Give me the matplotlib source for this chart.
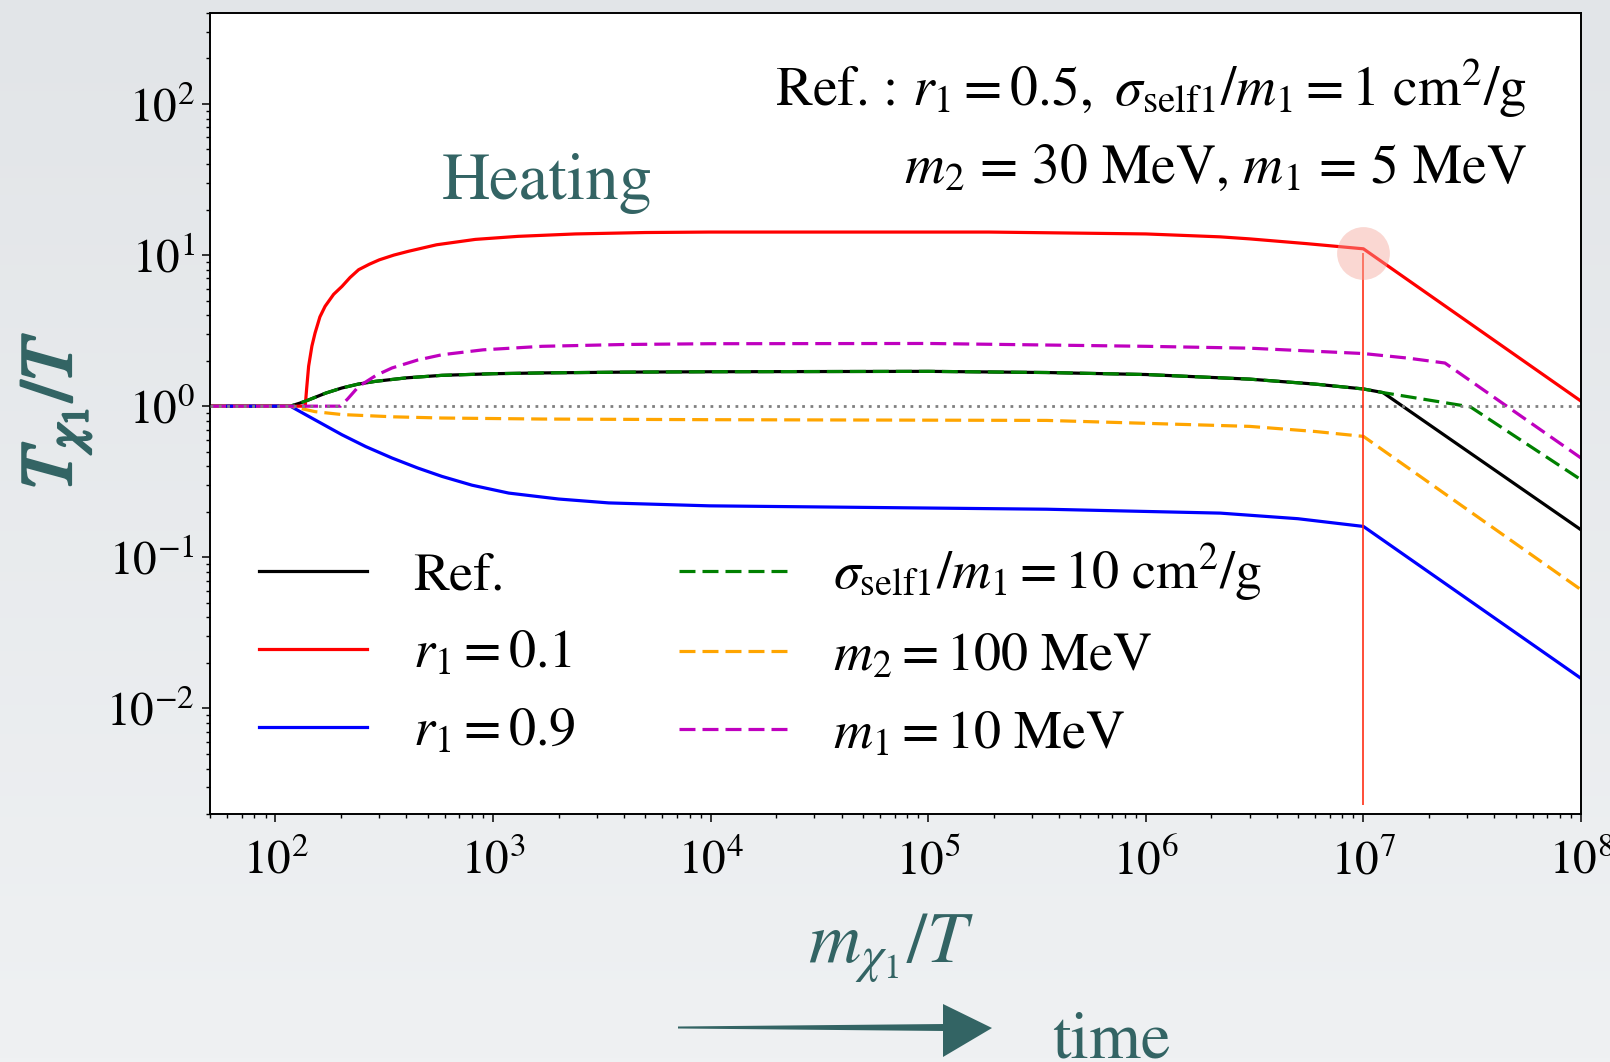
"""
T_chi1/T versus m_chi1/T for the reference point and parameter variations
"""

import matplotlib
matplotlib.use("Agg")
import matplotlib.pyplot as plt
import matplotlib.patheffects as pe
import numpy as np
from matplotlib.colors import LinearSegmentedColormap
from matplotlib.patches import Polygon

plt.rcParams["font.family"] = "STIXGeneral"
plt.rcParams["mathtext.fontset"] = "stix"

TEAL = "#336464"

# values (x = m_chi1/T, y = T_chi1/T)
ref_x = [50, 117, 130, 142, 170, 202, 240, 288, 400, 582, 1000, 1680, 4000, 1e4,
         1e5, 3.5e5, 1e6, 3e6, 6e6, 1e7, 1.23e7, 1e8]
ref_y = [1, 1, 1.05, 1.10, 1.22, 1.32, 1.40, 1.46, 1.54, 1.60, 1.64, 1.66, 1.68, 1.69,
         1.70, 1.67, 1.62, 1.51, 1.40, 1.30, 1.23, 0.152]

r01_x = [50, 137, 139, 142, 147, 152, 160, 169, 185, 202, 220, 241, 270, 300, 350, 409,
         550, 829, 1300, 2390, 5000, 9850, 1.9e5, 1e6, 2.2e6, 3e6, 5.5e6, 1e7, 1e8]
r01_y = [1, 1, 1.3, 1.84, 2.5, 3.05, 3.9, 4.58, 5.5, 6.2, 7.1, 8.0, 8.7, 9.3, 10.0, 10.6,
         11.7, 12.7, 13.3, 13.8, 14.1, 14.2, 14.2, 13.8, 13.2, 12.8, 11.9, 11.0, 1.08]

r09_x = [50, 117, 150, 202, 260, 343, 450, 582, 800, 1180, 2000, 3400, 9850, 3.5e5,
         2.2e6, 5e6, 1e7, 1e8]
r09_y = [1, 1, 0.82, 0.647, 0.54, 0.454, 0.39, 0.343, 0.30, 0.266, 0.243, 0.229, 0.219,
         0.208, 0.196, 0.180, 0.160, 0.0158]

sig10_x = [50, 117, 130, 142, 170, 202, 240, 288, 400, 582, 1000, 1680, 4000, 1e4,
           1e5, 3.5e5, 1e6, 3e6, 6e6, 1e7, 1.23e7, 3.1e7, 1e8]
sig10_y = [1, 1, 1.05, 1.10, 1.22, 1.32, 1.40, 1.46, 1.54, 1.60, 1.64, 1.66, 1.68, 1.69,
           1.70, 1.67, 1.62, 1.51, 1.40, 1.30, 1.23, 0.99, 0.326]

m2_100_x = [50, 117, 152, 202, 350, 582, 1682, 9850, 3.5e5, 3e6, 6e6, 1e7, 1e8]
m2_100_y = [1, 1, 0.92, 0.88, 0.85, 0.835, 0.822, 0.814, 0.805, 0.735, 0.68, 0.631, 0.061]

m1_10_x = [50, 199, 215, 241, 290, 343, 450, 582, 900, 1682, 4000, 9850, 1e5, 1e6,
           3e6, 1e7, 1.6e7, 2.37e7, 1e8]
m1_10_y = [1, 1, 1.12, 1.35, 1.60, 1.79, 2.02, 2.19, 2.36, 2.49, 2.56, 2.59, 2.60, 2.49,
           2.42, 2.23, 2.08, 1.93, 0.454]

# decoupling marker
mark_x = 1e7
mark_y = 10.3
mark_ybottom = 0.0023

labels = [
    "Ref.",
    r"$r_1=0.1$",
    r"$r_1=0.9$",
    r"$\sigma_{\rm self1}/m_1=10\ {\rm cm}^2/{\rm g}$",
    r"$m_2=100\ {\rm MeV}$",
    r"$m_1=10\ {\rm MeV}$",
]


def main():
    fig = plt.figure(figsize=(16.1, 10.62), dpi=100)

    # slide background
    bg = fig.add_axes([0, 0, 1, 1], zorder=0)
    cmap = LinearSegmentedColormap.from_list("bg", ["#e2e5e8", "#eff1f3"])
    bg.imshow(np.linspace(0, 1, 256).reshape(-1, 1), cmap=cmap, aspect="auto",
              extent=[0, 1610, 1062, 0])
    bg.set_xlim(0, 1610)
    bg.set_ylim(1062, 0)
    bg.axis("off")
    # "time" arrow
    bg.add_patch(Polygon([(678, 1026.5), (945, 1024), (945, 1031), (678, 1028.5)],
                         closed=True, color=TEAL, lw=0))
    bg.add_patch(Polygon([(943, 1004), (992, 1028), (943, 1057)],
                         closed=True, color=TEAL, lw=0))

    ax = fig.add_axes([210 / 1610, 1 - 814 / 1062, 1371 / 1610, 801 / 1062], zorder=1)
    ax.set_facecolor("white")

    solid = dict(lw=2.3)
    dash = dict(lw=2.3, ls=(0, (5, 2.2)))
    ax.plot(ref_x, ref_y, color="black", label=labels[0], **solid)
    ax.plot(r01_x, r01_y, color="#ff0000", label=labels[1], **solid)
    ax.plot(r09_x, r09_y, color="#0000ff", label=labels[2], **solid)
    ax.plot(sig10_x, sig10_y, color="green", label=labels[3], **dash)
    ax.plot(m2_100_x, m2_100_y, color="orange", label=labels[4], **dash)
    ax.plot(m1_10_x, m1_10_y, color="#bf00bf", label=labels[5], **dash)
    ax.axhline(1, color="grey", lw=2, ls=(0, (1, 2)), zorder=3)

    # highlight of the decoupling point
    ax.vlines(mark_x, mark_ybottom, mark_y, color="#ff2a10", lw=1.3, alpha=0.9, zorder=4)
    ax.plot([mark_x], [mark_y], "o", ms=38, color="#f4a89c", alpha=0.45,
            mec="none", zorder=5)

    ax.set_xscale("log")
    ax.set_yscale("log")
    ax.set_xlim(50, 1e8)
    ax.set_ylim(2e-3, 4e2)
    ax.set_yticks([1e-2, 1e-1, 1e0, 1e1, 1e2])

    ax.tick_params(which="major", direction="out", length=6, width=1.1, labelsize=34)
    ax.tick_params(axis="x", which="major", pad=12)
    ax.tick_params(axis="y", which="major", pad=5)
    ax.tick_params(which="minor", direction="out", length=3, width=1.0)
    for sp in ax.spines.values():
        sp.set_linewidth(1.4)

    ax.text(0.9606, 0.884,
            r"Ref. : $r_1=0.5,\ \sigma_{\rm self1}/m_1=1\ {\rm cm}^2/{\rm g}$",
            transform=ax.transAxes, ha="right", va="baseline", fontsize=40)
    ax.text(0.9606, 0.788, r"$m_2$ = 30 MeV, $m_1$ = 5 MeV",
            transform=ax.transAxes, ha="right", va="baseline", fontsize=40)

    ax.legend(ncol=2, loc="lower left", bbox_to_anchor=(0.0, 0.006), frameon=False,
              fontsize=39, handlelength=2.0, handletextpad=0.85, columnspacing=1.9,
              labelspacing=0.52)

    fig.text(547 / 1610, 1 - 199 / 1062, "Heating", color=TEAL, fontsize=48,
             ha="center", va="baseline")
    fig.text(891 / 1610, 1 - 963 / 1062, r"$m_{\chi_1}/T$", color=TEAL, fontsize=52,
             ha="center", va="baseline")
    fig.text(71 / 1610, 1 - 411 / 1062, r"$T_{\chi_1}/T$", color=TEAL, fontsize=53,
             rotation=90, rotation_mode="anchor", ha="center", va="baseline",
             path_effects=[pe.withStroke(linewidth=2, foreground=TEAL)])
    fig.text(1052 / 1610, 1 - 1057 / 1062, "time", color=TEAL, fontsize=48,
             ha="left", va="baseline")

    fig.savefig("out.png", dpi=100)
    plt.close(fig)


if __name__ == "__main__":
    main()
